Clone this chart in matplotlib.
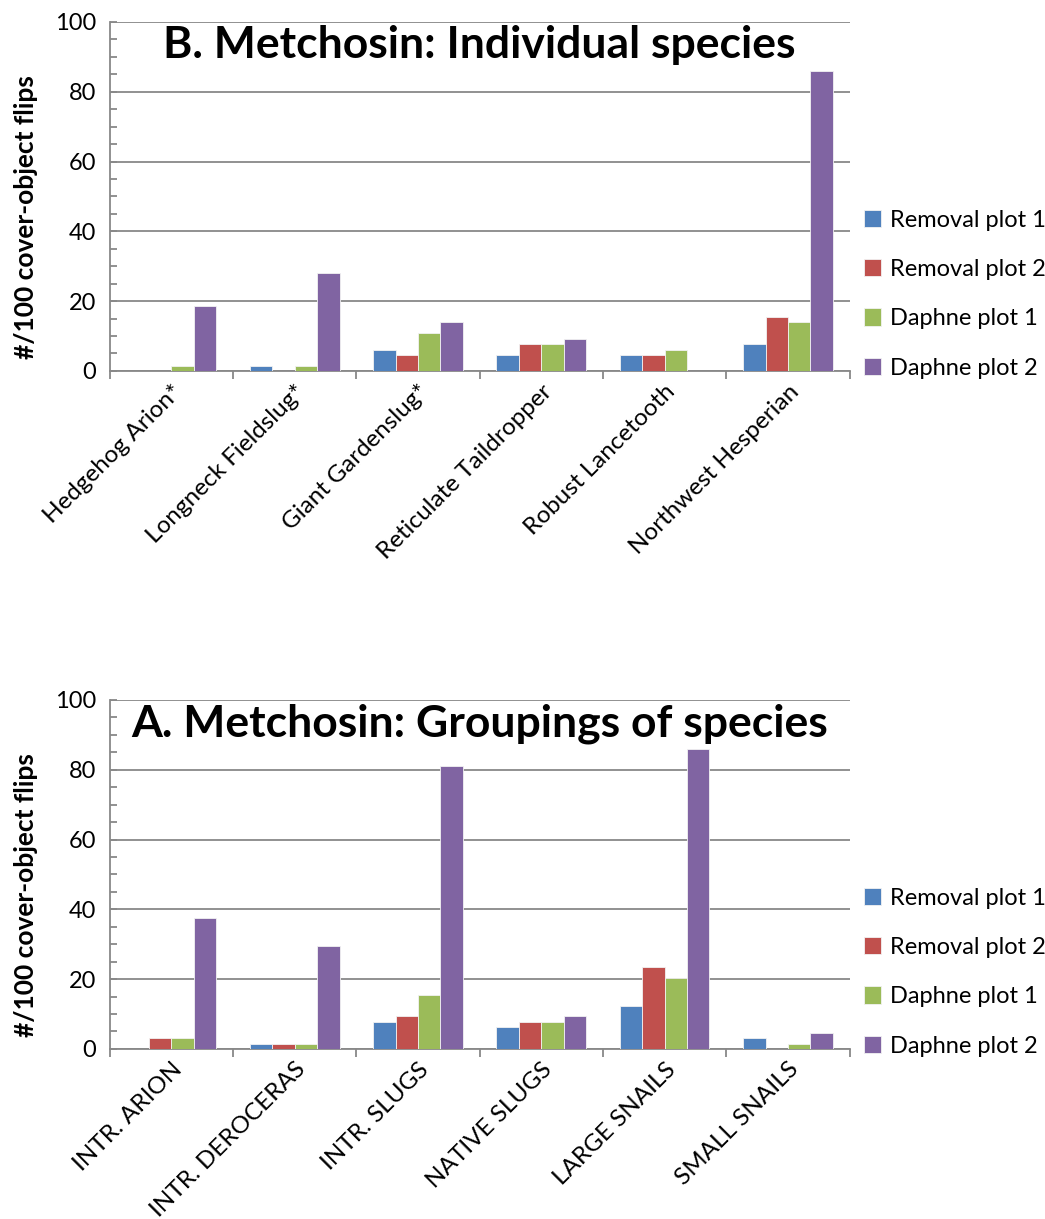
import matplotlib.pyplot as plt
import numpy as np
from matplotlib.ticker import MultipleLocator

plt.rcParams['font.family'] = ['Lato', 'DejaVu Sans']

series = ['Removal plot 1', 'Removal plot 2', 'Daphne plot 1', 'Daphne plot 2']
colors = ['#4F81BD', '#C0504D', '#9BBB59', '#8064A2']

species = ['Hedgehog Arion*', 'Longneck Fieldslug*', 'Giant Gardenslug*',
           'Reticulate Taildropper', 'Robust Lancetooth', 'Northwest Hesperian']
species_vals = [
    [0, 1.3, 6.1, 4.5, 4.5, 7.6],       # Removal plot 1
    [0, 0, 4.6, 7.6, 4.5, 15.5],        # Removal plot 2
    [1.3, 1.3, 10.8, 7.6, 6.0, 14.0],   # Daphne plot 1
    [18.7, 28.1, 13.9, 9.2, 0, 86.0],   # Daphne plot 2
]

groups = ['INTR. ARION', 'INTR. DEROCERAS', 'INTR. SLUGS',
          'NATIVE SLUGS', 'LARGE SNAILS', 'SMALL SNAILS']
group_vals = [
    [0, 1.5, 7.8, 6.2, 12.4, 3.1],
    [3.0, 1.5, 9.3, 7.8, 23.4, 0],
    [3.0, 1.5, 15.6, 7.8, 20.2, 1.5],
    [37.5, 29.5, 81.0, 9.3, 86.0, 4.7],
]


def draw(ax, cats, vals, title):
    x = np.arange(len(cats))
    w = 1 / 5.5
    for i, (name, c) in enumerate(zip(series, colors)):
        ax.bar(x + (i - 1.5) * w, vals[i], width=w, color=c,
               edgecolor='#f2f2f2', linewidth=0.6, label=name, zorder=3)
    ax.set_xlim(-0.5, len(cats) - 0.5)
    ax.set_ylim(0, 100)
    ax.yaxis.set_major_locator(MultipleLocator(20))
    ax.yaxis.set_minor_locator(MultipleLocator(5))
    ax.grid(axis='y', color='#888888', linewidth=1.3, zorder=0)
    for s in ['top', 'right']:
        ax.spines[s].set_visible(False)
    for s in ['left', 'bottom']:
        ax.spines[s].set_color('#888888')
        ax.spines[s].set_linewidth(1.3)
    ax.set_xticks(x)
    ax.set_xticklabels(cats, rotation=45, ha='right', rotation_mode='anchor',
                       fontsize=17.5)
    ax.set_xticks(np.arange(len(cats) + 1) - 0.5, minor=True)
    ax.tick_params(axis='x', which='major', length=0, pad=7)
    ax.tick_params(axis='x', which='minor', length=6, color='#888888',
                   width=1.3, direction='out')
    ax.tick_params(axis='y', which='major', labelsize=17, length=5,
                   direction='in', color='#888888', width=1.3, pad=10)
    ax.tick_params(axis='y', which='minor', length=5, direction='in',
                   color='#888888', width=1.3)
    ax.set_ylabel('#/100 cover-object flips', fontsize=19, fontweight='bold')
    ax.yaxis.set_label_coords(-0.097, 0.44)
    ax.text(0.5, 0.99, title, transform=ax.transAxes, ha='center', va='top',
            fontsize=32, fontweight='bold')
    ax.legend(loc='center left', bbox_to_anchor=(1.0, 0.22), frameon=False,
              fontsize=17, handlelength=0.75, handleheight=0.75,
              handletextpad=0.35, labelspacing=1.2, borderaxespad=0.2)


fig = plt.figure(figsize=(10.45, 12.19), dpi=100)
ax1 = fig.add_axes([0.105, 0.6957, 0.708, 0.2863])
ax2 = fig.add_axes([0.105, 0.1395, 0.708, 0.2863])

draw(ax1, species, species_vals, 'B. Metchosin: Individual species')
draw(ax2, groups, group_vals, 'A. Metchosin: Groupings of species')

fig.savefig('out.png', dpi=100)
